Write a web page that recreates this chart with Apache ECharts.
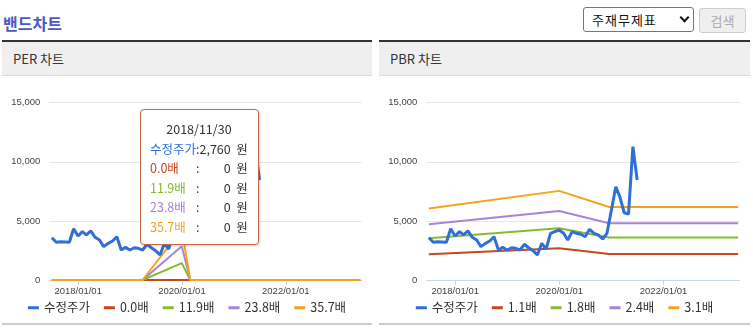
<!DOCTYPE html>
<html><head><meta charset="utf-8">
<script src="https://cdn.jsdelivr.net/npm/echarts@6/dist/echarts.min.js"></script>
<style>
html,body{margin:0;padding:0;width:753px;height:333px;overflow:hidden;background:#fff;font-family:"Noto Sans CJK KR","Noto Sans",sans-serif;}
#title{position:absolute;left:3px;top:12px;font-size:16px;font-weight:bold;color:#4a5ac4;line-height:22px;}
#sel{position:absolute;left:583px;top:7px;width:109px;height:23px;border:1px solid #767676;border-radius:3px;box-sizing:content-box;font-size:13px;color:#111;line-height:23px;}
#sel span.t{position:absolute;left:8px;top:0;letter-spacing:1px;}
#sel span.chev{position:absolute;left:97px;top:6px;width:5px;height:5px;border-right:2px solid #111;border-bottom:2px solid #111;transform:rotate(45deg);}
#btn{position:absolute;left:699px;top:8px;width:45px;height:23px;border:1px solid #ccc;border-radius:3px;background:#efefef;color:#aaa;font-size:13px;line-height:23px;text-align:center;}
.panel{position:absolute;top:40px;height:281px;border-top:2px solid #333;border-bottom:2px solid #ccc;}
.ph{height:33px;background:#efefef;border-bottom:1px solid #dcdcdc;font-size:13px;color:#333;line-height:33px;padding-left:11px;}
.chart{position:absolute;left:0;top:34px;width:100%;height:247px;}
</style></head>
<body>
<div id="title">밴드차트</div>
<div id="sel"><span class="t">주재무제표</span><span class="chev"></span></div>
<div id="btn">검색</div>
<div class="panel" style="left:2px;width:370px;"><div class="ph">PER 차트</div><div class="chart" id="c1"></div></div>
<div class="panel" style="left:379px;width:371px;"><div class="ph">PBR 차트</div><div class="chart" id="c2"></div></div>
<script>
// ---- data ----
const priceName = '수정주가';
const priceDates = [
 '2017/06/30','2017/07/31','2017/08/31','2017/09/30','2017/10/31','2017/11/30','2017/12/31',
 '2018/01/31','2018/02/28','2018/03/31','2018/04/30','2018/05/31','2018/06/30','2018/07/31','2018/08/31','2018/09/30','2018/10/31','2018/11/30','2018/12/31',
 '2019/01/31','2019/02/28','2019/03/31','2019/04/30','2019/05/31','2019/06/30','2019/07/31','2019/08/31','2019/09/30','2019/10/31','2019/11/30','2019/12/31',
 '2020/01/31','2020/02/29','2020/03/31','2020/04/30','2020/05/31','2020/06/30','2020/07/31','2020/08/31','2020/09/30','2020/10/31','2020/11/30','2020/12/31',
 '2021/01/31','2021/02/28','2021/03/31','2021/04/30','2021/05/31','2021/06/30'];
const priceValues = [3580,3190,3240,3220,3190,4340,3720,4090,3810,4150,
 3610,3380,2820,3100,3300,3660,2540,2760,2540,2730,
 2680,2540,3020,2730,2480,2120,3100,2620,3950,4090,
 4230,3950,3380,4090,3950,3870,3660,4290,3950,3810,
 3470,3950,5900,7890,7050,5690,5580,11280,8460];

const perBandNames = ['0.0배','11.9배','23.8배','35.7배'];
const perBandDates = ['2017/06/30','2019/03/31','2019/12/31','2020/02/29','2023/06/08'];
const perBand00 = [0,0,0,0,0];
const perBand119 = [0,0,1430,0,0];
const perBand238 = [0,0,2860,0,0];
const perBand357 = [0,0,4290,0,0];

const pbrBandNames = ['1.1배','1.8배','2.4배','3.1배'];
const pbrBandDates = ['2017/06/30','2019/12/31','2020/12/15','2023/06/08'];
const pbrBand11 = [2170,2680,2200,2200];
const pbrBand18 = [3530,4370,3590,3590];
const pbrBand24 = [4710,5840,4800,4800];
const pbrBand31 = [6040,7540,6170,6170];

const yTicks = [0,5000,10000,15000];
const xTickDates = ['2018/01/01','2020/01/01','2022/01/01'];
const axisRange = ['2017/06/12','2023/06/19'];
const tooltipDate = '2018/11/30';
const unit = '원';

// ---- helpers ----
const colors = ['#2f6fd6','#c8471e','#86bb2e','#a585d6','#f5a21f'];
function ts(s){const p=s.split('/').map(Number);return new Date(p[0],p[1]-1,p[2]).getTime();}
function pad(n){return (n<10?'0':'')+n;}
function fmt(t){const d=new Date(t);return d.getFullYear()+'/'+pad(d.getMonth()+1)+'/'+pad(d.getDate());}
function pairs(dates,vals){return dates.map((d,i)=>[ts(d),vals[i]]);}
function nearest(dates,vals,t){let bi=0,bd=Infinity;dates.forEach((d,i)=>{const dd=Math.abs(ts(d)-t);if(dd<bd){bd=dd;bi=i;}});return vals[bi];}

function makeOption(bandNames,bandDates,bands,withTip){
  const series=[{
    name:priceName,type:'line',data:pairs(priceDates,priceValues),symbol:'none',z:5,
    lineStyle:{width:3,color:colors[0]},itemStyle:{color:colors[0]},emphasis:{disabled:true}
  }];
  bands.forEach((b,i)=>series.push({
    name:bandNames[i],type:'line',data:pairs(bandDates,b),symbol:'none',z:2+i*0.1,
    lineStyle:{width:2,color:colors[i+1]},itemStyle:{color:colors[i+1]},emphasis:{disabled:true}
  }));
  const legendData=[{name:priceName,icon:'rect',itemStyle:{color:colors[0]}}].concat(
    bandNames.map((n,i)=>({name:n,icon:'rect',itemStyle:{color:colors[i+1]}})));
  const opt={
    animation:false,
    color:colors,
    grid:{left:47.3,right:10.3,top:26.7,bottom:43},
    xAxis:{type:'value',min:ts(axisRange[0]),max:ts(axisRange[1]),
      axisLine:{show:true,lineStyle:{color:'#ccd6eb',width:1}},
      axisTick:{show:true,length:5,lineStyle:{color:'#ccd6eb'},customValues:xTickDates.map(ts)},
      axisLabel:{show:true,customValues:xTickDates.map(ts),formatter:v=>fmt(v),color:'#444',fontSize:9.5,margin:6,fontFamily:'Liberation Sans, Arial, sans-serif'},
      splitLine:{show:false}},
    yAxis:{type:'value',min:yTicks[0],max:yTicks[yTicks.length-1],interval:yTicks[1]-yTicks[0],
      axisLine:{show:false},axisTick:{show:false},
      axisLabel:{color:'#444',fontSize:9.5,margin:9,fontFamily:'Liberation Sans, Arial, sans-serif',formatter:v=>v.toLocaleString('en-US')},
      splitLine:{lineStyle:{color:'#e6e6e6',width:1}}},
    legend:{bottom:4,left:'center',itemWidth:11,itemHeight:3,itemGap:14,
      textStyle:{fontSize:12.5,color:'#333',fontFamily:'"Noto Sans CJK KR", sans-serif'},
      data:legendData},
    series:series
  };
  if(withTip){
    opt.tooltip={trigger:'axis',triggerOn:'none',alwaysShowContent:true,transitionDuration:0,
      axisPointer:{type:'none'},
      position:function(){return [138,33];},
      backgroundColor:'#fff',borderColor:'#c9694a',borderWidth:1,padding:[9,10,8,9],
      extraCssText:'border-radius:4px;box-shadow:1px 1px 3px rgba(0,0,0,0.18);',
      formatter:function(params){
        const p=params.find(x=>x.seriesIndex===0)||params[0];
        const t=p.value[0];
        const cell='style="padding:0;line-height:19.5px;white-space:nowrap;"';
        let h='<div style="font-family:\'Noto Sans CJK KR\',sans-serif;font-size:12.5px;color:#333;">';
        h+='<div style="text-align:center;line-height:19.5px;">'+fmt(t)+'</div>';
        h+='<table style="border-collapse:collapse;border-spacing:0;">';
        h+='<tr><td '+cell+'><span style="color:'+colors[0]+'">'+priceName+'</span></td><td '+cell+'>:</td><td '+cell+' align="right">'+p.value[1].toLocaleString('en-US')+'</td><td '+cell+'>&nbsp;&nbsp;'+unit+'</td></tr>';
        bands.forEach((b,i)=>{
          const v=nearest(bandDates,b,t);
          h+='<tr><td '+cell+'><span style="color:'+colors[i+1]+'">'+bandNames[i]+'</span></td><td '+cell+' align="center">:</td><td '+cell+' align="right" width="30">'+v.toLocaleString('en-US')+'</td><td '+cell+'>&nbsp;&nbsp;'+unit+'</td></tr>';
        });
        h+='</table></div>';
        return h;
      }};
  }
  return opt;
}

const c1=echarts.init(document.getElementById('c1'));
c1.setOption(makeOption(perBandNames,perBandDates,[perBand00,perBand119,perBand238,perBand357],true));
const c2=echarts.init(document.getElementById('c2'));
c2.setOption(makeOption(pbrBandNames,pbrBandDates,[pbrBand11,pbrBand18,pbrBand24,pbrBand31],false));
c1.dispatchAction({type:'showTip',seriesIndex:0,dataIndex:priceDates.indexOf(tooltipDate)});
</script>
</body></html>
